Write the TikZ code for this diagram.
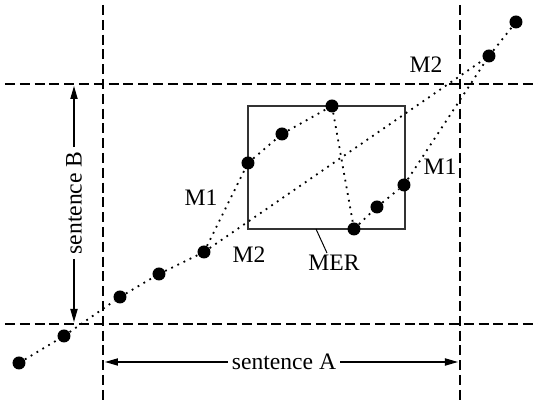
\documentclass[tikz,border=0pt]{standalone}
\usepackage{fontspec}
\setmainfont{Liberation Serif}
\usetikzlibrary{arrows.meta,positioning}
\tikzset{
  gridln/.style={dash pattern=on 5pt off 2.4pt, line width=0.6pt},
  dotln/.style={dash pattern=on 0.9pt off 2.5pt, line width=0.9pt},
  boxln/.style={line width=0.6pt, black!80},
  dimln/.style={-{Triangle[length=6.5pt,width=3.6pt]}, line width=0.6pt},
  dot/.style={circle, fill=black, inner sep=0pt, minimum size=6.5pt},
  lbl/.style={inner sep=2pt, font=\fontsize{11.8}{14}\selectfont},
}

\begin{document}
\begin{tikzpicture}[x=0.5pt,y=-0.5pt]
    \useasboundingbox (0,0) rectangle (538,400);
    % sentence boundaries
    \draw[gridln] (103,5) -- (103,400);
    \draw[gridln] (460,5) -- (460,400);
    \draw[gridln] (5,84) -- (538,84);
    \draw[gridln] (5,324) -- (538,324);
    % MER box
    \coordinate (mertl) at (248,106);
    \coordinate (merbr) at (405,229);
    \draw[boxln] (mertl) rectangle (merbr);
    % matched points
    \foreach \n/\px/\py in {1/19/363, 2/64/336, 3/120/297, 4/159/274, 5/204/252,
        6/248/163, 7/282/134, 8/332/106, 9/354/229, 10/377/207, 11/404/185,
        12/489/56, 13/516/22}
      \node[dot] (p\n) at (\px,\py) {};
    % alignments M2 and M1
    \draw[dotln] (p1) -- (p2) -- (p3) -- (p4) -- (p5) -- (p12) -- (p13);
    \draw[dotln] (p5) -- (p6) -- (p7) -- (p8) -- (p9) -- (p10) -- (p11) -- (p12);
    \node[lbl] (m2top) at (426,65) {M2};
    \node[lbl] (m1right) at (440,167) {M1};
    \node[lbl] (m1left) at (201,198) {M1};
    \node[lbl] (m2low) at (249,255) {M2};
    % box label
    \node[lbl] (mer) at (334,263) {MER};
    \coordinate (merfoot) at (316,229);
    \coordinate (merlead) at (327,253);
    \draw[line width=0.5pt] (merfoot) -- (merlead);
    % sentence lengths
    \node[lbl] (senta) at (284,362) {sentence A};
    \coordinate (sa1) at (105,362);
    \coordinate (sa2) at (458,362);
    \draw[dimln] (senta.west) -- (sa1);
    \draw[dimln] (senta.east) -- (sa2);
    \node[lbl, rotate=90] (sentb) at (74,203) {sentence B};
    \coordinate (sb1) at (74,86);
    \coordinate (sb2) at (74,322);
    \draw[dimln] (sentb.east) -- (sb1);
    \draw[dimln] (sentb.west) -- (sb2);
  \end{tikzpicture}
\end{document}
